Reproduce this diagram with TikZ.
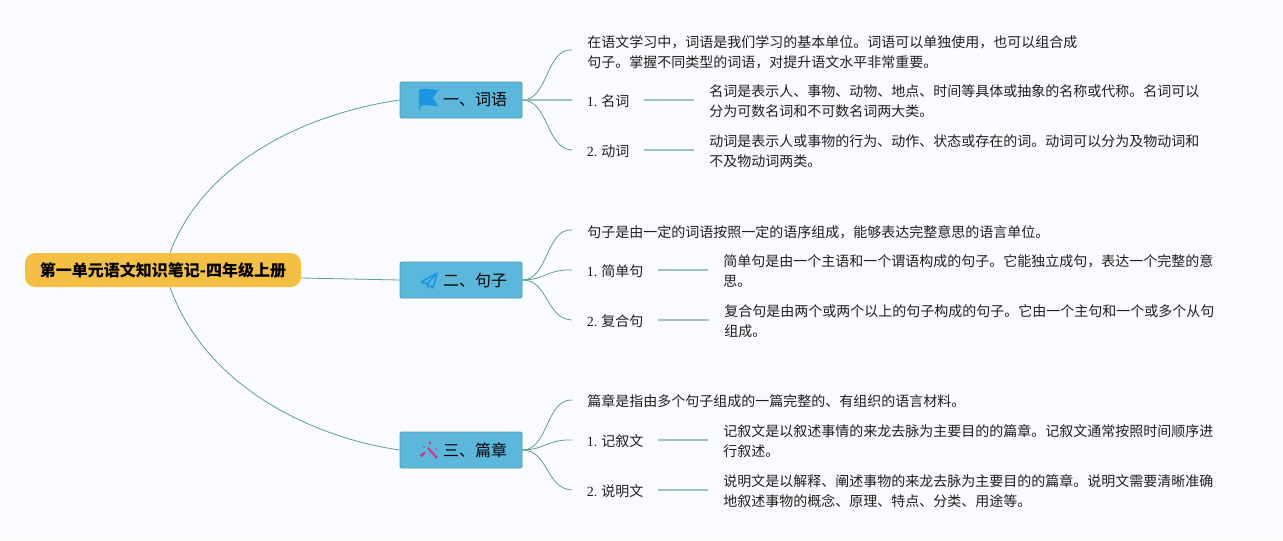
\documentclass[tikz,border=0pt]{standalone}
\usepackage{fontspec}
\setmainfont{Liberation Serif}
\newfontfamily\cjk{Noto Sans CJK SC}
\newdimen\px \px=0.75pt
\definecolor{bgc}{HTML}{F9FBFF}
\definecolor{rootc}{HTML}{F4C044}
\definecolor{branchc}{HTML}{5BB8DC}
\definecolor{branchb}{HTML}{4A9EAE}
\definecolor{edgec}{HTML}{5F9E98}
\definecolor{stemc}{HTML}{9CC4BA}
\definecolor{txt}{HTML}{1F1F1F}
\definecolor{iconb}{HTML}{1A96E0}
\definecolor{iconp}{HTML}{D9367E}
\newcommand{\num}[1]{{\rmfamily #1} }
\newcommand{\lowered}[1]{\raisebox{-1\px}{#1}}
\tikzset{
  rootbox/.style={draw=none,fill=rootc,rounded corners=10\px,minimum width=276\px,minimum height=34\px,inner sep=0pt,
    text=black,font=\cjk\bfseries\fontsize{12pt}{15pt}\selectfont},
  branchbox/.style={draw=branchb,line width=0.75\px,fill=branchc,rounded corners=1.5\px,minimum width=122\px,minimum height=36\px,inner xsep=15\px,inner ysep=0pt,
    text width=92\px,align=right,text=black,font=\cjk\fontsize{12pt}{15pt}\selectfont},
  leaf/.style={anchor=west,inner xsep=15\px,inner ysep=0pt,align=left,text=txt,font=\cjk\fontsize{10.5pt}{15pt}\selectfont},
  sub/.style={leaf,inner xsep=14.5\px},
  main edge/.style={draw=edgec,line width=0.8\px},
  fork edge/.style={draw=edgec,line width=0.8\px},
  stem edge/.style={draw=stemc,line width=1.3\px},
}
\begin{document}
\begin{tikzpicture}[x=0.75pt,y=-0.75pt]
\useasboundingbox (0,0) rectangle (1283,540);
\fill[bgc] (0,0) rectangle (1283,540);

\node[rootbox] (root) at (163,270) {\lowered{第一单元语文知识笔记-四年级上册}};
\node[branchbox] (b1) at (461,100) {\lowered{一、词语}};
\node[branchbox] (b2) at (461,280) {\lowered{二、句子}};
\node[branchbox] (b3) at (461,450) {\lowered{三、篇章}};

% section 1
\node[leaf] (i1) at (572,52) {在语文学习中，词语是我们学习的基本单位。词语可以单独使用，也可以组合成\\句子。掌握不同类型的词语，对提升语文水平非常重要。};
\node[sub] (s11) at (572,101) {\num{1.}名词};
\node[sub] (s12) at (572,151) {\num{2.}动词};
\node[leaf] (d11) at (694,101) {名词是表示人、事物、动物、地点、时间等具体或抽象的名称或代称。名词可以\\分为可数名词和不可数名词两大类。};
\node[leaf] (d12) at (694,151) {动词是表示人或事物的行为、动作、状态或存在的词。动词可以分为及物动词和\\不及物动词两类。};
% section 2
\node[leaf] (i2) at (572,232) {句子是由一定的词语按照一定的语序组成，能够表达完整意思的语言单位。};
\node[sub] (s21) at (572,271) {\num{1.}简单句};
\node[sub] (s22) at (572,321) {\num{2.}复合句};
\node[leaf] (d21) at (708,271) {简单句是由一个主语和一个谓语构成的句子。它能独立成句，表达一个完整的意\\思。};
\node[leaf] (d22) at (709,321) {复合句是由两个或两个以上的句子构成的句子。它由一个主句和一个或多个从句\\组成。};
% section 3
\node[leaf] (i3) at (572,401) {篇章是指由多个句子组成的一篇完整的、有组织的语言材料。};
\node[sub] (s31) at (572,441) {\num{1.}记叙文};
\node[sub] (s32) at (572,491) {\num{2.}说明文};
\node[leaf] (d31) at (708,441) {记叙文是以叙述事情的来龙去脉为主要目的的篇章。记叙文通常按照时间顺序进\\行叙述。};
\node[leaf] (d32) at (708,491) {说明文是以解释、阐述事物的来龙去脉为主要目的的篇章。说明文需要清晰准确\\地叙述事物的概念、原理、特点、分类、用途等。};

% root edges
\draw[main edge] ([xshift=7\px]root.north) .. controls +(35,-93) and +(-90,13) .. (b1.west);
\draw[main edge] ([yshift=-8\px]root.east) -- (b2.west);
\draw[main edge] ([xshift=7\px]root.south) .. controls +(35,98) and +(-90,-13) .. (b3.west);

% forks
\draw[fork edge] (b1.east) .. controls +(26,0) and +(-26,-2) .. ([yshift=2\px]i1.west);
\draw[stem edge] (b1.east) -- ([yshift=1\px]s11.west);
\draw[fork edge] (b1.east) .. controls +(26,0) and +(-26,-1) .. ([yshift=1\px]s12.west);
\draw[fork edge] (b2.east) .. controls +(26,0) and +(-26,-2) .. ([yshift=2\px]i2.west);
\draw[fork edge] (b2.east) .. controls +(22,0) and +(-24,-1) .. ([yshift=1\px]s21.west);
\draw[fork edge] (b2.east) .. controls +(26,0) and +(-26,-1) .. ([yshift=1\px]s22.west);
\draw[fork edge] (b3.east) .. controls +(26,0) and +(-26,-1) .. ([yshift=1\px]i3.west);
\draw[fork edge] (b3.east) .. controls +(22,0) and +(-24,-1) .. ([yshift=1\px]s31.west);
\draw[fork edge] (b3.east) .. controls +(26,0) and +(-26,-1) .. ([yshift=1\px]s32.west);

% stems
\draw[stem edge] ([yshift=1\px]s11.east) -- ([yshift=1\px]d11.west);
\draw[stem edge] ([yshift=1\px]s12.east) -- ([yshift=1\px]d12.west);
\draw[stem edge] ([yshift=1\px]s21.east) -- ([yshift=1\px]d21.west);
\draw[stem edge] ([yshift=1\px]s22.east) -- ([yshift=1\px]d22.west);
\draw[stem edge] ([yshift=1\px]s31.east) -- ([yshift=1\px]d31.west);
\draw[stem edge] ([yshift=1\px]s32.east) -- ([yshift=1\px]d32.west);

% icons
\fill[iconb] (419,90) -- (424,88.5) -- (438,90) -- (433,98) -- (438,106) -- (424,105) -- (420,106.5) -- (420,110) -- (419,110) -- cycle;
\draw[iconb,line width=1.5\px,line join=round] (437,273) -- (421,282) -- (427,284) -- (433,288) -- (437,273) -- (427,284);
\draw[iconb,line width=1.2\px] (427,284) -- (428,288);
\draw[iconp,line width=2.2\px] (428,448) -- (437,458);
\draw[iconp,line width=2.2\px] (421,456) -- (425,452.5);
\fill[iconp] (430,443) circle (1.5) (421.5,455.5) circle (1.7) (424,447) circle (0.9) (436,449) circle (0.9);
\end{tikzpicture}
\end{document}
